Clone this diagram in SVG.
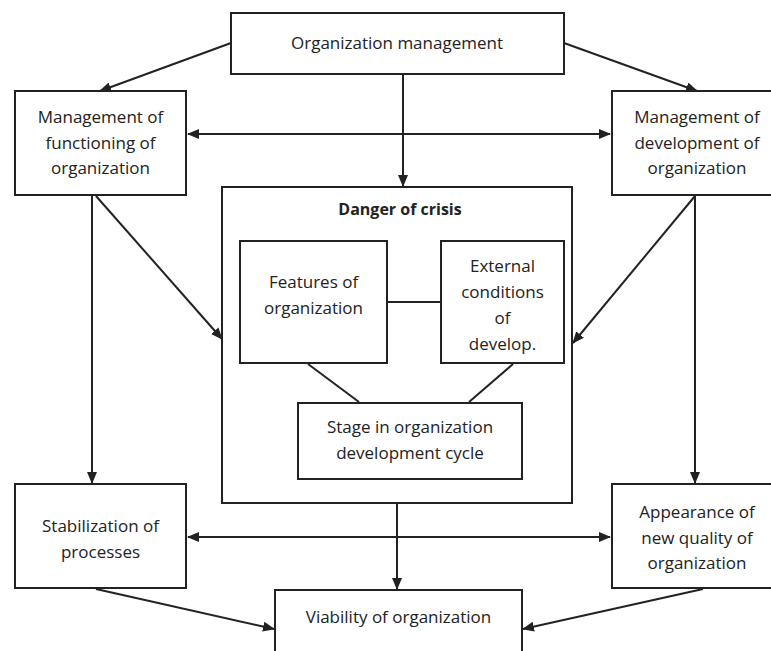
<svg xmlns="http://www.w3.org/2000/svg" width="771" height="651" viewBox="0 0 771 651">
  <style>
    .box { fill: #ffffff; stroke: #222222; stroke-width: 2; }
    .lbl { font-family: "Open Sans", "Liberation Sans", sans-serif; font-size: 17px; fill: #222222; text-anchor: middle; }
    .bold { font-weight: bold; font-size: 16px; }
    .line { fill: none; stroke: #222222; stroke-width: 2; }
    .arr { fill: none; stroke: #222222; stroke-width: 2; marker-end: url(#head); }
    .arr2 { fill: none; stroke: #222222; stroke-width: 2; marker-start: url(#headStart); marker-end: url(#head); }
  </style>
  <defs>
    <marker id="head" viewBox="0 0 12 10" refX="11" refY="5" markerWidth="12" markerHeight="10" markerUnits="userSpaceOnUse" orient="auto">
      <path d="M0,0 L12,5 L0,10 Z" fill="#222222"/>
    </marker>
    <marker id="headStart" viewBox="0 0 12 10" refX="1" refY="5" markerWidth="12" markerHeight="10" markerUnits="userSpaceOnUse" orient="auto">
      <path d="M12,0 L0,5 L12,10 Z" fill="#222222"/>
    </marker>
  </defs>

  <rect width="771" height="651" fill="#ffffff"/>

  <g id="org-management">
    <rect class="box" x="231" y="13" width="333" height="61"/>
    <text class="lbl" x="397" y="49">Organization management</text>
  </g>

  <g id="functioning">
    <rect class="box" x="15" y="91" width="171" height="104"/>
    <text class="lbl" x="100.5" y="123">Management of</text>
    <text class="lbl" x="100.5" y="149">functioning of</text>
    <text class="lbl" x="100.5" y="174">organization</text>
  </g>

  <g id="development">
    <rect class="box" x="612" y="91" width="172" height="104"/>
    <text class="lbl" x="697" y="123">Management of</text>
    <text class="lbl" x="697" y="149">development of</text>
    <text class="lbl" x="697" y="174">organization</text>
  </g>

  <g id="danger-of-crisis">
    <rect class="box" x="222" y="187" width="350" height="316"/>
    <text class="lbl bold" x="400" y="215">Danger of crisis</text>
  </g>

  <g id="features">
    <rect class="box" x="240" y="241" width="147" height="122"/>
    <text class="lbl" x="313.5" y="288">Features of</text>
    <text class="lbl" x="313.5" y="314">organization</text>
  </g>

  <g id="external-conditions">
    <rect class="box" x="441" y="241" width="123" height="122"/>
    <text class="lbl" x="502.5" y="272">External</text>
    <text class="lbl" x="502.5" y="298">conditions</text>
    <text class="lbl" x="502.5" y="324">of</text>
    <text class="lbl" x="502.5" y="350">develop.</text>
  </g>

  <g id="stage">
    <rect class="box" x="298" y="403" width="224" height="76"/>
    <text class="lbl" x="410" y="433">Stage in organization</text>
    <text class="lbl" x="410" y="459">development cycle</text>
  </g>

  <g id="stabilization">
    <rect class="box" x="15" y="484" width="171" height="104"/>
    <text class="lbl" x="100.5" y="532">Stabilization of</text>
    <text class="lbl" x="100.5" y="558">processes</text>
  </g>

  <g id="new-quality">
    <rect class="box" x="612" y="484" width="172" height="104"/>
    <text class="lbl" x="697" y="518">Appearance of</text>
    <text class="lbl" x="697" y="544">new quality of</text>
    <text class="lbl" x="697" y="569">organization</text>
  </g>

  <g id="viability">
    <rect class="box" x="275" y="590" width="247" height="70"/>
    <text class="lbl" x="398.5" y="623">Viability of organization</text>
  </g>

  <!-- connectors, drawn over the boxes so the inner links stay visible -->
  <g id="connectors">
    <line class="arr" x1="231" y1="43" x2="100" y2="91"/>
    <line class="arr" x1="564" y1="43" x2="697" y2="91"/>
    <line class="arr" x1="403" y1="74" x2="403" y2="186"/>
    <line class="arr2" x1="188" y1="134" x2="610" y2="134"/>
    <line class="arr" x1="96" y1="196" x2="222" y2="339"/>
    <line class="arr" x1="695" y1="196" x2="573" y2="343"/>
    <line class="arr" x1="92" y1="196" x2="92" y2="483"/>
    <line class="arr" x1="695" y1="196" x2="695" y2="483"/>
    <line class="line" x1="388" y1="302" x2="440" y2="302"/>
    <line class="line" x1="308" y1="364" x2="359" y2="402"/>
    <line class="line" x1="513" y1="364" x2="469" y2="402"/>
    <line class="arr" x1="397" y1="504" x2="397" y2="589"/>
    <line class="arr2" x1="188" y1="537" x2="610" y2="537"/>
    <line class="arr" x1="96" y1="589" x2="274" y2="629"/>
    <line class="arr" x1="703" y1="589" x2="523" y2="629"/>
  </g>
</svg>
